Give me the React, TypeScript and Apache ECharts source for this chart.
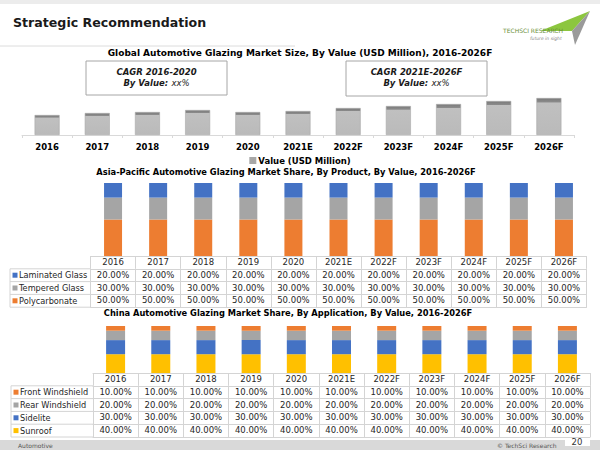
import React, { useEffect, useRef } from "react";
import * as echarts from "echarts";

const years = ["2016", "2017", "2018", "2019", "2020", "2021E", "2022F", "2023F", "2024F", "2025F", "2026F"];
const marketValue = [20, 22, 23, 25, 23, 24, 27, 29, 31, 34, 37];

const apLaminated = [20, 20, 20, 20, 20, 20, 20, 20, 20, 20, 20];
const apTempered = [30, 30, 30, 30, 30, 30, 30, 30, 30, 30, 30];
const apPoly = [50, 50, 50, 50, 50, 50, 50, 50, 50, 50, 50];

const cnFront = [10, 10, 10, 10, 10, 10, 10, 10, 10, 10, 10];
const cnRear = [20, 20, 20, 20, 20, 20, 20, 20, 20, 20, 20];
const cnSide = [30, 30, 30, 30, 30, 30, 30, 30, 30, 30, 30];
const cnSun = [40, 40, 40, 40, 40, 40, 40, 40, 40, 40, 40];

const BLUE = "#4472C4";
const GRAY = "#A5A5A5";
const ORANGE = "#ED7D31";
const YELLOW = "#FFC000";
const FONT = "DejaVu Sans";
const LINE = "#d4d4d4";

const G1 = { left: 22, top: 65, width: 552, height: 70 };
const G2 = { left: 90.5, top: 183, width: 496, height: 73 };
const G3 = { left: 93, top: 326, width: 497, height: 47 };
const ROW = 12.8;

const pct = (v: number) => v.toFixed(2) + "%";

function tableAxes(gridIndex: number, rows: number[][]) {
  const axes: any[] = [];
  const base = {
    type: "category",
    gridIndex,
    data: years,
    position: "bottom",
    boundaryGap: true,
    axisLine: { show: true, lineStyle: { color: LINE, width: 1 } },
    axisTick: { show: true, interval: 0, length: ROW, lineStyle: { color: LINE, width: 1 } },
    axisPointer: { show: false },
  };
  axes.push({
    ...base,
    offset: 0,
    axisLabel: { interval: 0, margin: 1.5, fontFamily: FONT, fontSize: 8.5, color: "#262626" },
  });
  rows.forEach((vals, i) => {
    axes.push({
      ...base,
      offset: (i + 1) * ROW,
      axisLabel: {
        interval: 0,
        margin: 1.5,
        fontFamily: FONT,
        fontSize: 8.5,
        color: "#262626",
        formatter: (_v: string, idx: number) => pct(vals[idx]),
      },
    });
  });
  axes.push({
    ...base,
    offset: (rows.length + 1) * ROW,
    axisTick: { show: false },
    axisLabel: { show: false },
  });
  return axes;
}

function leftColumn(top: number, labels: string[], colors: string[], x0: number, x1: number) {
  const els: any[] = [];
  const n = labels.length;
  for (let i = 0; i <= n; i++) {
    const y = top + (i + 1) * ROW;
    els.push({ type: "line", shape: { x1: x0, y1: y, x2: x1, y2: y }, style: { stroke: LINE, lineWidth: 1 }, silent: true });
  }
  els.push({ type: "line", shape: { x1: x0, y1: top + ROW, x2: x0, y2: top + (n + 1) * ROW }, style: { stroke: LINE, lineWidth: 1 } });
  labels.forEach((lab, i) => {
    const cy = top + (i + 1.5) * ROW;
    els.push({ type: "rect", shape: { x: x0 + 2.5, y: cy - 2.5, width: 5, height: 5 }, style: { fill: colors[i] } });
    els.push({
      type: "text",
      x: x0 + 9,
      y: cy,
      style: { text: lab, fontFamily: FONT, fontSize: 8.2, fill: "#262626", verticalAlign: "middle", align: "left" },
    });
  });
  return els;
}

function cagrBox(x: number, y: number, w: number, h: number, period: string) {
  return [
    { type: "rect", shape: { x, y, width: w, height: h }, style: { fill: "#ffffff", stroke: "#a6a6a6", lineWidth: 1 } },
    {
      type: "text",
      x: x + w / 2,
      y: y + 11,
      style: { text: "CAGR " + period, fontFamily: FONT, fontSize: 8.5, fontWeight: "bold", fontStyle: "italic", fill: "#1a1a1a", align: "center", verticalAlign: "middle" },
    },
    {
      type: "text",
      x: x + w / 2,
      y: y + 22,
      style: {
        text: "{b|By Value:} {n|xx%}",
        align: "center",
        verticalAlign: "middle",
        rich: {
          b: { fontFamily: FONT, fontSize: 8.5, fontWeight: "bold", fontStyle: "italic", fill: "#1a1a1a" },
          n: { fontFamily: FONT, fontSize: 8.5, fontStyle: "italic", fill: "#1a1a1a" },
        },
      },
    },
  ];
}

export default function App() {
  const ref = useRef<HTMLDivElement>(null);
  useEffect(() => {
    document.body.style.margin = "0";
    if (!ref.current) return;
    const chart = echarts.init(ref.current, undefined, { renderer: "svg" });

    const barGrad = new echarts.graphic.LinearGradient(0, 0, 0, 1, [
      { offset: 0, color: "#7a7a7a" },
      { offset: 0.11, color: "#8c8c8c" },
      { offset: 0.12, color: "#c0c0c0" },
      { offset: 1, color: "#bababa" },
    ]);

    const xAxes: any[] = [
      {
        type: "category",
        gridIndex: 0,
        data: years,
        axisLine: { show: true, lineStyle: { color: "#d9d9d9" } },
        axisTick: { show: true, interval: 0, length: 3, lineStyle: { color: "#d9d9d9" } },
        axisLabel: { interval: 0, margin: 7, fontFamily: FONT, fontSize: 8.5, fontWeight: "bold", color: "#000" },
      },
      ...tableAxes(1, [apLaminated, apTempered, apPoly]),
      ...tableAxes(2, [cnFront, cnRear, cnSide, cnSun]),
    ];
    const grid2First = 1;
    const grid3First = 1 + 5;

    const option: any = {
      animation: false,
      backgroundColor: "#ffffff",
      grid: [
        { ...G1, containLabel: false },
        { ...G2, containLabel: false },
        { ...G3, containLabel: false },
      ],
      xAxis: xAxes,
      yAxis: [
        { type: "value", gridIndex: 0, min: 0, max: 70, show: false },
        { type: "value", gridIndex: 1, min: 0, max: 100, show: false },
        { type: "value", gridIndex: 2, min: 0, max: 100, show: false },
      ],
      legend: {
        data: ["Value (USD Million)"],
        left: "center",
        top: 156,
        padding: 0,
        icon: "rect",
        itemWidth: 5,
        itemHeight: 5,
        itemGap: 3,
        itemStyle: { color: "#a6a6a6" },
        textStyle: { fontFamily: FONT, fontSize: 8.5, fontWeight: "bold", color: "#000", padding: [0, 0, 0, -2] },
      },
      series: [
        {
          name: "Value (USD Million)",
          type: "bar",
          xAxisIndex: 0,
          yAxisIndex: 0,
          data: marketValue,
          barWidth: 25,
          itemStyle: { color: barGrad, borderColor: "#a8a8a8", borderWidth: 0.6 },
        },
        { name: "Polycarbonate", type: "bar", stack: "ap", xAxisIndex: grid2First, yAxisIndex: 1, data: apPoly, barWidth: 18, itemStyle: { color: ORANGE } },
        { name: "Tempered Glass", type: "bar", stack: "ap", xAxisIndex: grid2First, yAxisIndex: 1, data: apTempered, barWidth: 18, itemStyle: { color: GRAY } },
        { name: "Laminated Glass", type: "bar", stack: "ap", xAxisIndex: grid2First, yAxisIndex: 1, data: apLaminated, barWidth: 18, itemStyle: { color: BLUE } },
        { name: "Sunroof", type: "bar", stack: "cn", xAxisIndex: grid3First, yAxisIndex: 2, data: cnSun, barWidth: 19, itemStyle: { color: YELLOW } },
        { name: "Sidelite", type: "bar", stack: "cn", xAxisIndex: grid3First, yAxisIndex: 2, data: cnSide, barWidth: 19, itemStyle: { color: BLUE } },
        { name: "Rear Windshield", type: "bar", stack: "cn", xAxisIndex: grid3First, yAxisIndex: 2, data: cnRear, barWidth: 19, itemStyle: { color: GRAY } },
        { name: "Front Windshield", type: "bar", stack: "cn", xAxisIndex: grid3First, yAxisIndex: 2, data: cnFront, barWidth: 19, itemStyle: { color: ORANGE } },
      ],
      graphic: [
        { type: "rect", shape: { x: 0, y: 0, width: 600, height: 4 }, style: { fill: "#ececec" } },
        {
          type: "text",
          x: 13,
          y: 22,
          style: { text: "Strategic Recommendation", fontFamily: FONT, fontSize: 12.6, fontWeight: "bold", fill: "#1a1a1a", verticalAlign: "middle" },
        },
        { type: "line", shape: { x1: 0, y1: 46, x2: 295, y2: 46 }, style: { stroke: "#dcdcdc", lineWidth: 1 } },
        // logo
        { type: "polygon", shape: { points: [[590, 11], [540, 31], [572, 31]] }, style: { fill: "#8cc63f" } },
        { type: "polygon", shape: { points: [[590, 11], [572, 31], [575, 45]] }, style: { fill: "#9a9a9a" } },
        { type: "text", x: 503, y: 30, style: { text: "TECHSCI RESEARCH", fontFamily: FONT, fontSize: 6, fill: "#6a8f3a", verticalAlign: "middle" } },
        { type: "text", x: 530, y: 38, style: { text: "future in sight", fontFamily: FONT, fontSize: 4.5, fontStyle: "italic", fill: "#888", verticalAlign: "middle" } },
        // chart titles
        {
          type: "text",
          x: 300,
          y: 53,
          style: { text: "Global Automotive Glazing Market Size, By Value (USD Million), 2016-2026F", fontFamily: FONT, fontSize: 9, fontWeight: "bold", fill: "#000", align: "center", verticalAlign: "middle" },
        },
        ...cagrBox(86, 61, 141, 34, "2016-2020"),
        ...cagrBox(346, 61, 141, 35, "2021E-2026F"),
        {
          type: "text",
          x: 286,
          y: 172,
          style: { text: "Asia-Pacific Automotive Glazing Market Share, By Product, By Value, 2016-2026F", fontFamily: FONT, fontSize: 8.3, fontWeight: "bold", fill: "#000", align: "center", verticalAlign: "middle" },
        },
        {
          type: "text",
          x: 288,
          y: 313,
          style: { text: "China Automotive Glazing Market Share, By Application, By Value, 2016-2026F", fontFamily: FONT, fontSize: 8.3, fontWeight: "bold", fill: "#000", align: "center", verticalAlign: "middle" },
        },
        ...leftColumn(G2.top + G2.height, ["Laminated Glass", "Tempered Glass", "Polycarbonate"], [BLUE, GRAY, ORANGE], 10, G2.left),
        ...leftColumn(G3.top + G3.height, ["Front Windshield", "Rear Windshield", "Sidelite", "Sunroof"], [ORANGE, GRAY, BLUE, YELLOW], 11, G3.left),
        // footer
        { type: "rect", shape: { x: 0, y: 440, width: 600, height: 10 }, style: { fill: "#d9d9d9" } },
        { type: "rect", shape: { x: 565, y: 437, width: 25, height: 9 }, style: { fill: "#ffffff" } },
        { type: "text", x: 18, y: 445, style: { text: "Automotive", fontFamily: FONT, fontSize: 6, fill: "#555", verticalAlign: "middle" } },
        { type: "text", x: 497, y: 445, style: { text: "© TechSci Research", fontFamily: FONT, fontSize: 6, fill: "#555", verticalAlign: "middle" } },
        { type: "text", x: 577, y: 441.5, style: { text: "20", fontFamily: FONT, fontSize: 8.5, fill: "#333", align: "center", verticalAlign: "middle" } },
      ],
    };
    chart.setOption(option);
    return () => chart.dispose();
  }, []);
  return <div ref={ref} style={{ width: 600, height: 450 }} />;
}
